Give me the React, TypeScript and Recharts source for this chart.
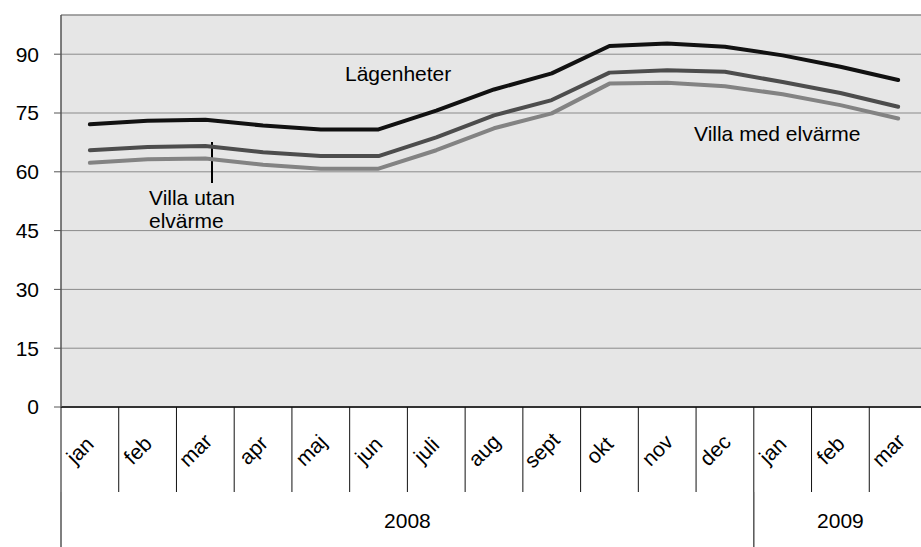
import { LineChart, Line, XAxis, YAxis, CartesianGrid, ReferenceLine, Customized } from "recharts";

const months = ["jan", "feb", "mar", "apr", "maj", "jun", "juli", "aug", "sept", "okt", "nov", "dec", "jan", "feb", "mar"];
const years = ["2008", "2008", "2008", "2008", "2008", "2008", "2008", "2008", "2008", "2008", "2008", "2008", "2009", "2009", "2009"];

const lagenheter = [72.1, 73.0, 73.3, 71.8, 70.8, 70.8, 75.6, 81.0, 85.1, 92.1, 92.7, 91.9, 89.7, 86.8, 83.4];
const villaMed = [65.5, 66.3, 66.6, 65.0, 64.0, 64.0, 68.8, 74.4, 78.3, 85.3, 85.9, 85.5, 82.9, 80.1, 76.6];
const villaUtan = [62.3, 63.2, 63.4, 61.8, 60.8, 60.8, 65.5, 71.1, 74.9, 82.5, 82.7, 81.8, 79.8, 77.0, 73.6];

const yTicks = [0, 15, 30, 45, 60, 75, 90];

const W = 927;
const H = 547;
const LEFT = 61;
const PLOT_W = W - LEFT;
const BAND = PLOT_W / months.length;
const FONT = "'Liberation Sans', Arial, sans-serif";
const FS = 21;

const data = months.map((m, i) => ({
  key: `${years[i]}-${m}`,
  month: m,
  year: years[i],
  lagenheter: lagenheter[i],
  villaMed: villaMed[i],
  villaUtan: villaUtan[i],
}));

function MonthTick(props: any) {
  const { x, y, index } = props;
  const m = months[index];
  const tx = x - 10;
  const ty = y + 43;
  return (
    <g>
      <line x1={x - BAND / 2} y1={y} x2={x - BAND / 2} y2={y + 85} stroke="#111" strokeWidth={1} />
      <text
        x={tx}
        y={ty}
        transform={`rotate(-45 ${tx} ${ty})`}
        textAnchor="middle"
        dominantBaseline="central"
        fontSize={FS}
        fill="#000"
        fontFamily={FONT}
      >
        {m}
      </text>
    </g>
  );
}

function YearTick(props: any) {
  const { x, y, index } = props;
  const yr = years[index];
  if (index > 0 && years[index - 1] === yr) return <g />;
  const n = years.filter((v) => v === yr).length;
  const left = x - BAND / 2;
  return (
    <g>
      <line x1={left} y1={y} x2={left} y2={y + 60} stroke="#555" strokeWidth={1.5} />
      <text x={left + (n * BAND) / 2} y={y + 36} textAnchor="middle" fontSize={FS} fill="#000" fontFamily={FONT}>
        {yr}
      </text>
    </g>
  );
}

function Annotations() {
  return (
    <g fontFamily={FONT} fontSize={FS} fill="#000">
      <text x={345} y={81}>Lägenheter</text>
      <text x={694} y={141}>Villa med elvärme</text>
      <text x={149} y={205}>Villa utan</text>
      <text x={149} y={228}>elvärme</text>
      <line x1={212} y1={142} x2={212} y2={183} stroke="#000" strokeWidth={2} />
    </g>
  );
}

export default function App() {
  return (
    <div style={{ position: "absolute", left: 0, top: 0, width: 921, height: H, overflow: "hidden", background: "#fff", fontFamily: FONT }}>
      <LineChart width={W} height={H} data={data} margin={{ top: 15, right: 0, bottom: 0, left: 0 }}>
        <CartesianGrid vertical={false} stroke="#8a8a8a" fill="#e6e6e6" horizontalValues={yTicks} />
        <ReferenceLine y={100} stroke="#8a8a8a" strokeWidth={1.5} />
        <XAxis
          dataKey="key"
          xAxisId="month"
          scale="band"
          interval={0}
          height={85}
          tickSize={0}
          tickMargin={0}
          tickLine={false}
          axisLine={{ stroke: "#333", strokeWidth: 2 }}
          tick={<MonthTick />}
        />
        <XAxis
          dataKey="key"
          xAxisId="year"
          scale="band"
          interval={0}
          height={55}
          tickSize={0}
          tickMargin={0}
          tickLine={false}
          axisLine={false}
          tick={<YearTick />}
        />
        <YAxis
          width={LEFT}
          domain={[0, 100]}
          ticks={yTicks}
          interval={0}
          tickSize={7}
          tickMargin={15}
          axisLine={{ stroke: "#555", strokeWidth: 1.5 }}
          tickLine={{ stroke: "#555" }}
          tick={{ fontSize: FS, fill: "#000", fontFamily: FONT }}
        />
        <Line xAxisId="month" type="linear" dataKey="villaUtan" stroke="#838383" strokeWidth={4} dot={false} strokeLinecap="round" strokeLinejoin="round" isAnimationActive={false} />
        <Line xAxisId="month" type="linear" dataKey="villaMed" stroke="#4d4d4d" strokeWidth={4} dot={false} strokeLinecap="round" strokeLinejoin="round" isAnimationActive={false} />
        <Line xAxisId="month" type="linear" dataKey="lagenheter" stroke="#111" strokeWidth={4} dot={false} strokeLinecap="round" strokeLinejoin="round" isAnimationActive={false} />
        <Customized component={<Annotations />} />
      </LineChart>
    </div>
  );
}
